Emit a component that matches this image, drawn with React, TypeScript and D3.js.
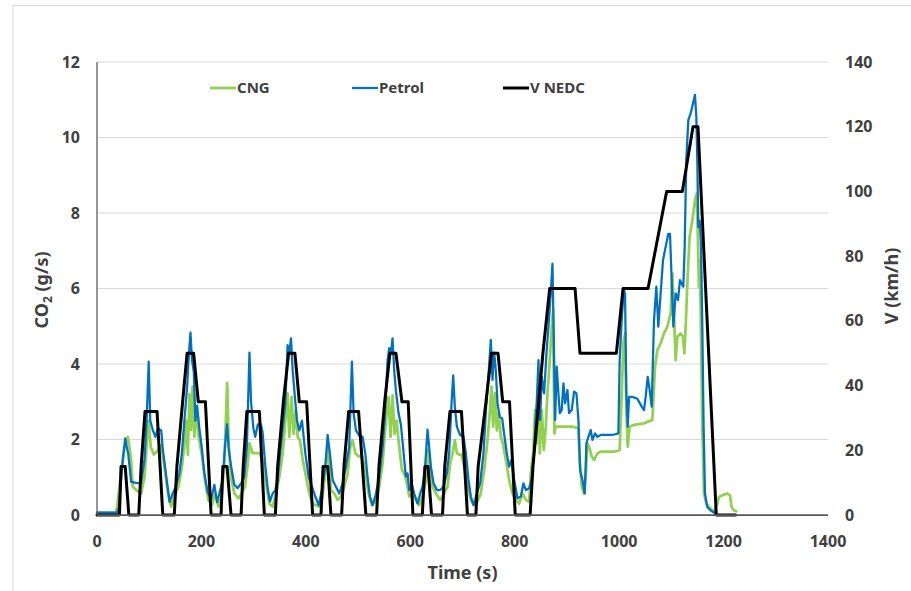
import { line as d3Line, scaleLinear } from "d3";

type Point = [number, number];

const WIDTH = 911;
const HEIGHT = 591;
const PLOT = { left: 97, right: 828, top: 62, bottom: 515 } as const;
const FONT = "'Noto Sans', 'DejaVu Sans', sans-serif";
const TEXT_COLOR = "#404040";

const timeTicks = [0, 200, 400, 600, 800, 1000, 1200, 1400];
const co2Ticks = [0, 2, 4, 6, 8, 10, 12];
const speedTicks = [0, 20, 40, 60, 80, 100, 120, 140];

// NEDC speed trace [s, km/h]
const vNedc: Point[] = [
  [0, 0], [43, 0], [46, 15], [54, 15], [61, 0],
  [80, 0], [84.5, 15], [92, 32], [115, 32], [126, 0],
  [148, 0], [153, 15], [164, 35], [172.6, 50], [185, 50], [194, 35], [207.6, 35], [218.5, 0],
  [237.6, 0], [241, 15], [249, 15], [256.7, 0],
  [276, 0], [280, 15], [287, 32], [311, 32], [320.5, 0],
  [341.6, 0], [346, 15], [357, 35], [367, 50], [379, 50], [387.5, 35], [401.5, 35], [413, 0],
  [429, 0], [433, 15], [442, 15], [448, 0],
  [468.5, 0], [473, 15], [482, 32], [501, 32], [515, 0],
  [535.5, 0], [540, 15], [551, 35], [561, 50], [572.5, 50], [584, 35], [596, 35], [605, 0],
  [623, 0], [628, 15], [634, 15], [640.7, 0],
  [661.7, 0], [666, 15], [676, 32], [698, 32], [709.5, 0],
  [725.6, 0], [730, 15], [745, 35], [755.5, 50], [768, 50], [777, 35], [790, 35], [801, 0],
  [829.5, 0], [835, 15], [846, 35], [854, 50], [867, 70], [915.6, 70], [925, 50], [994.7, 50],
  [1007.5, 70], [1055.3, 70], [1091, 100], [1121, 100], [1141.5, 120], [1151, 120], [1186, 0], [1223, 0],
];

// Petrol CO2 [s, g/s]
const petrol: Point[] = [
  [0, 0.06], [38, 0.06], [42, 0.2], [45, 0.75], [49.4, 1.46], [54, 2.03], [57, 1.8], [60, 1.6], [65.4, 0.88],
  [75, 0.85], [84.5, 0.84], [91, 1.48], [95, 2.5], [99, 4.06], [102, 2.5], [107, 2.24], [112, 2.07], [116.4, 2.3],
  [123, 2.24], [126, 1.75], [132.4, 1.05], [139, 0.35], [145, 0.57], [151, 0.75], [157.8, 1.1], [162.3, 1.6],
  [167.4, 2.5], [172.6, 3.4], [175.7, 4.2], [179, 4.83], [182, 4.1], [185.3, 3.8], [188.5, 2.5], [191.7, 2.9],
  [196, 2.3], [200.6, 1.8], [205.7, 1.1], [212, 0.6], [218.5, 0.42], [224.8, 0.8], [230, 0.34], [234.4, 0.57],
  [240.8, 0.95], [245.3, 1.85], [249, 2.4], [252.3, 1.75], [256.7, 1.3], [263, 0.8], [269.5, 0.71], [276, 0.84],
  [282, 1.0], [287, 1.8],
  [292, 4.3], [295, 3.0], [299.5, 2.3], [303, 2.07], [308, 2.4], [314, 2.4], [317, 2.2], [322.4, 1.3], [327, 0.7],
  [331.3, 0.36], [336.5, 0.57], [341.5, 0.66], [346, 0.93], [350.5, 1.6], [355.6, 2.3], [360.7, 2.96], [365, 4.5],
  [368.3, 4.28], [371.5, 4.68], [374.7, 3.84], [379, 3.13], [383, 2.5], [387.5, 2.24], [392.6, 2.5], [399, 1.63],
  [405.4, 1.0], [411.7, 0.75], [418, 0.49], [424.5, 0.26], [430.8, 0.66], [437.2, 1.28], [441.7, 2.12], [446, 1.63],
  [451.3, 0.93], [457.6, 0.75], [464, 0.57], [470.4, 0.84], [476.8, 1.28], [483, 1.8], [488.2, 4.06], [491.4, 2.7],
  [496, 2.24], [502.3, 2.1], [508.7, 2.07], [513.8, 1.63], [518.2, 1.0], [522.7, 0.49], [527.8, 0.26], [534.2, 0.57],
  [540.5, 1.0], [547, 1.8], [552, 2.8], [556.5, 4.1], [559.7, 4.42], [563, 4.28], [566, 4.68], [569.2, 3.84],
  [572.4, 3.3], [577.5, 2.7], [582, 2.4], [585.5, 1.9],
  [588.4, 1.46], [591.6, 1.02], [594.8, 1.1], [598, 0.66], [602.4, 0.84], [607.5, 0.57], [614, 0.3], [619, 0.57],
  [623.5, 0.75], [628, 1.2], [633, 2.26], [636.2, 1.8], [639.4, 1.28], [644.5, 0.84], [651, 0.66], [657.3, 0.66],
  [663.7, 0.75], [670, 1.1], [674.5, 1.64], [679, 2.96], [682.2, 3.7], [685.3, 2.87], [689.2, 2.34], [695.5, 2.12],
  [702, 2.07], [706.4, 1.64], [711.5, 0.93], [716, 0.49], [721, 0.26], [727.4, 0.57], [733.8, 0.84], [740.2, 1.64],
  [745.3, 2.87], [750.4, 3.84], [754.2, 4.64], [757.4, 3.58], [760.6, 4.3], [763.8, 3.84], [767, 2.96], [771.4, 2.6],
  [776, 2.56], [779.7, 2.15], [784.8, 1.64], [789.3, 1.28], [793.8, 1.46], [799, 0.93], [805.3, 0.44], [811.6, 0.49],
  [816.7, 0.84], [821.2, 0.66], [827.6, 0.71], [832, 0.93], [837, 1.64], [840, 2.5], [842.2, 3.0], [845.5, 4.1],
  [848.6, 2.52], [851.8, 3.66], [856.3, 3.22], [860.8, 4.28], [864.6, 4.99], [869, 5.87], [872.3, 6.66], [874.2, 5.17],
  [877.4, 2.52], [880.5, 3.93], [883.7, 3.22], [886.3, 2.7], [890, 2.78], [893.3, 3.49], [896.5, 2.96], [901, 3.31],
  [904, 2.7], [909.2, 2.78], [913.7, 3.27], [918.2, 3.22], [922, 2.52], [925.2, 1.19], [929.7, 0.93], [934.1, 0.57],
  [937.3, 1.9], [941.1, 2.07], [945.6, 2.25], [948.8, 1.99], [953.9, 2.16], [958.4, 2.07], [964.7, 2.12], [987, 2.12],
  [998.5, 2.16], [1001, 4.1], [1004.9, 5.17], [1008.7, 5.96], [1011.3, 5.87], [1013.8, 3.22], [1016.4, 2.34],
  [1019, 3.13], [1025.3, 3.13], [1034.9, 3.08], [1043.2, 2.87], [1047.6, 2.78], [1050.8, 3.13], [1054.7, 3.66],
  [1058.5, 3.31], [1062.3, 2.87], [1066.8, 5.17], [1071.2, 6.05], [1075, 4.99], [1079.5, 5.87], [1084, 6.75],
  [1089, 7.1], [1094.2, 7.45], [1097.4, 7.45], [1100.6, 6.22], [1103.8, 4.99], [1108.2, 5.87], [1112.7, 5.69],
  [1116.5, 6.22], [1119.7, 6.13], [1122.9, 6.05], [1125.5, 7.1], [1128.6, 9.4], [1132.5, 10.46], [1137, 10.64],
  [1141.4, 10.9], [1145.2, 11.13], [1147.8, 10.55], [1149.7, 9.4], [1151.6, 7.63], [1154.2, 7.8], [1156.7, 7.19],
  [1159.3, 4.99], [1161.8, 2.34], [1164.4, 0.57], [1168.8, 0.21], [1175.2, 0.12], [1184.8, 0.04],
];

// CNG CO2 [s, g/s]
const cng: Point[] = [
  [0, 0.06], [36, 0.06], [38.6, 0.22], [43, 0.75], [52.6, 1.8], [59, 2.07], [62, 1.8], [65.4, 1.45], [68.5, 0.75],
  [75, 0.66], [84.5, 0.57], [91, 1.0], [95, 1.8], [99, 2.5], [103, 1.8], [108.8, 1.6], [116.4, 1.7], [123, 1.85],
  [129, 1.3], [135.5, 0.6], [142, 0.22], [148, 0.5], [156, 0.75], [162, 1.2], [167, 1.8], [170.6, 2.5], [174, 1.6],
  [177, 3.2], [180, 2.25], [183, 3.4], [186.5, 2.07], [189.7, 2.87], [194, 2.15], [200.6, 1.6], [207, 0.9],
  [213.3, 0.4], [220, 0.26], [226, 0.57], [232.5, 0.22], [239, 0.5], [244, 1.4], [249.3, 3.5], [252.5, 1.8],
  [256.7, 1.0], [263, 0.57], [270.7, 0.44], [277, 0.57], [283.5, 0.75], [288.6, 1.35],
  [292, 1.9], [298, 1.64], [304.5, 1.64], [311, 1.64], [317, 1.46], [323.7, 0.84], [330, 0.3], [336.5, 0.22],
  [343, 0.57], [349, 1.0], [355.6, 1.64], [360.7, 2.5], [365, 3.22], [368.3, 2.07], [372.8, 3.13], [376.6, 2.15],
  [381, 2.78], [384.3, 2.07], [388.7, 1.98], [394, 1.46], [400.2, 1.02], [406.6, 0.57], [413, 0.3], [419.4, 0.26],
  [425.7, 0.22], [432, 0.49], [438.5, 1.28], [443, 1.8], [448, 0.66], [454.4, 0.57], [460.8, 0.4], [467.2, 0.49],
  [473.6, 0.75], [480, 1.1], [485, 1.8], [489.5, 1.98], [494.6, 1.64], [501, 1.55], [507.4, 1.55], [513.8, 1.2],
  [520, 0.57], [526.5, 0.26], [533, 0.35], [540.5, 0.75], [547, 1.37], [553.3, 2.5], [558.4, 3.13], [562.2, 2.07],
  [566, 3.17], [570, 2.15], [573.7, 2.5], [578.8, 1.8], [584, 1.2],
  [588.4, 1.1], [593.5, 0.84], [598, 0.49], [604.3, 0.57], [610.7, 0.4], [617, 0.26], [623.5, 0.49], [630, 0.93],
  [634.3, 1.73], [638.1, 1.37], [642.6, 0.75], [649, 0.57], [657.3, 0.4], [665, 0.57], [671.3, 0.75], [676.4, 1.37],
  [681, 1.64], [685.3, 1.98], [689.2, 1.64], [693.6, 1.6], [698, 1.6], [703.2, 1.28], [709.6, 0.75], [716, 0.4],
  [722.3, 0.26], [728.7, 0.35], [735, 0.57], [741.5, 1.2], [746.6, 1.8], [751.7, 2.6], [755.5, 3.4], [758.7, 2.34],
  [761.9, 3.22], [765.7, 2.24], [769.5, 2.7], [773.4, 2.07], [777.2, 1.9], [783, 1.46], [789.3, 0.93], [795.7, 0.57],
  [802, 0.4], [808.4, 0.3], [814.8, 0.57], [821.2, 0.4], [827.6, 0.35],
  [830.8, 1.1], [835.3, 1.63], [839, 2.78], [841.6, 1.9], [845.5, 3.22], [848, 1.63], [851.8, 2.78], [855.7, 1.72],
  [859.5, 2.34], [862.7, 3.22], [867.1, 4.1], [871, 4.99], [873.5, 5.43], [876, 2.16], [878.6, 2.34], [897.8, 2.34],
  [910.5, 2.34], [922, 2.3], [924.5, 1.46], [928.4, 0.75], [932.8, 0.57], [936, 1.02], [939.2, 1.9], [942.4, 1.81],
  [947.5, 1.55], [952, 1.46], [958.4, 1.63], [964.7, 1.68], [990.2, 1.68], [1001, 1.72], [1004.9, 3.22],
  [1008.1, 4.55], [1011.3, 4.81], [1013.8, 2.78], [1016.4, 1.81], [1020.2, 2.34], [1028.5, 2.39], [1047.6, 2.43],
  [1063.6, 2.52], [1068.7, 3.93], [1073.2, 4.37], [1079.5, 4.55], [1085.9, 4.81], [1092.3, 4.99], [1098.7, 5.34],
  [1101.9, 6.4], [1105, 5.34], [1108.2, 4.1], [1111.4, 4.72], [1117.8, 4.81], [1122.3, 4.72], [1124.8, 4.28],
  [1127.4, 4.99], [1131.2, 6.31], [1135, 7.37], [1140.1, 7.8], [1145.2, 8.34], [1148.4, 8.51], [1150.3, 7.63],
  [1152.9, 6.04], [1154.2, 6.75], [1156.7, 4.99], [1159.3, 2.34], [1162.5, 0.57], [1166.9, 0.3], [1175.2, 0.17],
  [1181.6, 0.08], [1188, 0.3], [1191.2, 0.48], [1197.5, 0.52], [1207.1, 0.57], [1212.2, 0.52], [1215.4, 0.21],
  [1219.9, 0.12], [1224.3, 0.1],
];

const legendLabels = ["CNG", "Petrol", "V NEDC"];
const LEGEND_X = [210, 352, 503];
const LEGEND_Y = 88;
const SERIES_COLORS = ["#92D050", "#0070C0", "#000000"];
const SERIES_WIDTHS = [2.75, 2.25, 3];

export default function App() {
  const x = scaleLinear().domain([0, 1400]).range([PLOT.left, PLOT.right]);
  const yCo2 = scaleLinear().domain([0, 12]).range([PLOT.bottom, PLOT.top]);
  const ySpeed = scaleLinear().domain([0, 140]).range([PLOT.bottom, PLOT.top]);

  const co2Line = d3Line<Point>()
    .x((d) => x(d[0]))
    .y((d) => yCo2(d[1]));
  const speedLine = d3Line<Point>()
    .x((d) => x(d[0]))
    .y((d) => ySpeed(d[1]));

  const paths = [co2Line(cng) ?? "", co2Line(petrol) ?? "", speedLine(vNedc) ?? ""];

  return (
    <svg
      width={WIDTH}
      height={HEIGHT}
      style={{ position: "absolute", left: 0, top: 0, display: "block", background: "#fff" }}
      fontFamily={FONT}
    >
      <rect width={WIDTH} height={HEIGHT} fill="#fff" />
      {/* chart area border */}
      <path d={`M13,${HEIGHT} V5.5 H${WIDTH}`} fill="none" stroke="#D9D9D9" strokeWidth={1} />

      {/* gridlines */}
      {co2Ticks.slice(1).map((t) => (
        <line
          key={t}
          x1={PLOT.left}
          x2={PLOT.right}
          y1={yCo2(t)}
          y2={yCo2(t)}
          stroke="#D9D9D9"
          strokeWidth={1}
        />
      ))}

      {/* series */}
      {paths.map((d, i) => (
        <path
          key={legendLabels[i]}
          d={d}
          fill="none"
          stroke={SERIES_COLORS[i]}
          strokeWidth={SERIES_WIDTHS[i]}
          strokeLinejoin="round"
          strokeLinecap="round"
        />
      ))}

      {/* axes */}
      <line x1={PLOT.left} x2={PLOT.left} y1={PLOT.top} y2={PLOT.bottom} stroke="#595959" strokeWidth={1.25} />
      <line x1={PLOT.left} x2={PLOT.right} y1={PLOT.bottom} y2={PLOT.bottom} stroke="#595959" strokeWidth={1.75} />

      {/* tick labels */}
      <g fontSize={16} fontWeight={700} fill={TEXT_COLOR}>
        {co2Ticks.map((t) => (
          <text key={`l${t}`} x={80} y={yCo2(t)} dy="0.35em" textAnchor="end">
            {t}
          </text>
        ))}
        {speedTicks.map((t) => (
          <text key={`r${t}`} x={845} y={ySpeed(t)} dy="0.35em" textAnchor="start">
            {t}
          </text>
        ))}
        {timeTicks.map((t) => (
          <text key={`b${t}`} x={x(t)} y={547} textAnchor="middle">
            {t}
          </text>
        ))}
      </g>

      {/* axis titles */}
      <g fontSize={18} fontWeight={700} fill={TEXT_COLOR}>
        <text x={(PLOT.left + PLOT.right) / 2} y={579} textAnchor="middle">
          Time (s)
        </text>
        <text transform={`translate(48,290) rotate(-90)`} textAnchor="middle">
          CO<tspan fontSize={12} dy={4}>2</tspan>
          <tspan dy={-4}> (g/s)</tspan>
        </text>
        <text transform={`translate(898,286) rotate(-90)`} textAnchor="middle">
          V (km/h)
        </text>
      </g>

      {/* legend */}
      <g fontSize={15} fontWeight={700} fill={TEXT_COLOR}>
        {legendLabels.map((label, i) => (
          <g key={label}>
            <line
              x1={LEGEND_X[i]}
              x2={LEGEND_X[i] + 26}
              y1={LEGEND_Y}
              y2={LEGEND_Y}
              stroke={SERIES_COLORS[i]}
              strokeWidth={SERIES_WIDTHS[i]}
            />
            <text x={LEGEND_X[i] + 27} y={LEGEND_Y} dy="0.35em">
              {label}
            </text>
          </g>
        ))}
      </g>
    </svg>
  );
}
